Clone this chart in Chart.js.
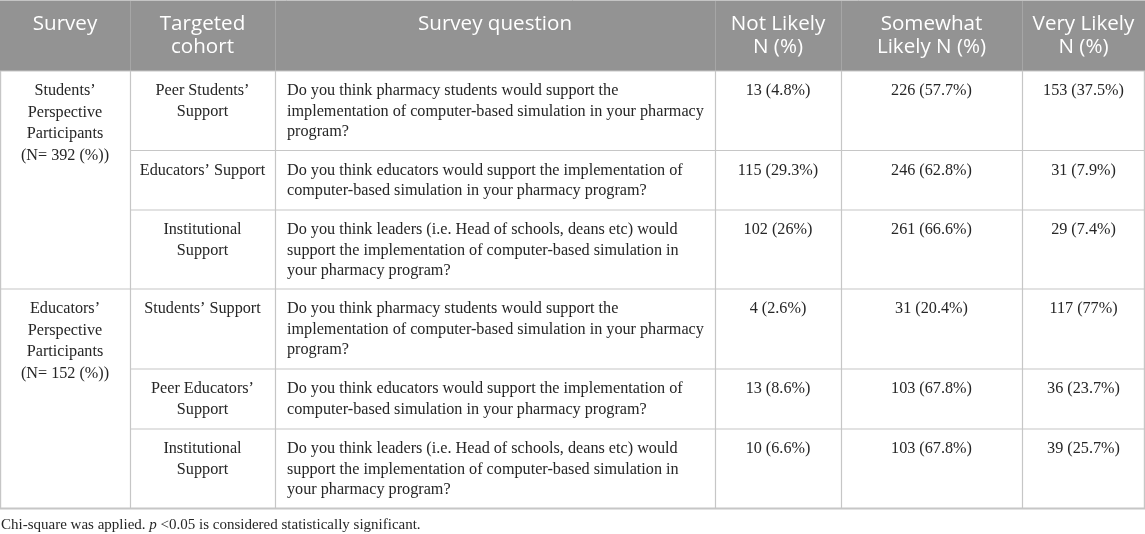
<!DOCTYPE html>
<html>
<head>
<meta charset="utf-8">
<script src="https://cdn.jsdelivr.net/npm/chart.js@4/dist/chart.umd.min.js"></script>
<style>
  html, body { margin: 0; padding: 0; background: #ffffff; }
  #wrap { position: relative; width: 1145px; height: 534px; }
</style>
</head>
<body>
<div id="wrap"><canvas id="c"></canvas></div>
<script>
// ---------- DATA ----------
const headers = [["Survey"], ["Targeted", "cohort"], ["Survey question"], ["Not Likely", "N (%)"], ["Somewhat", "Likely N (%)"], ["Very Likely", "N (%)"]];
const surveys = [
  ["Students’", "Perspective", "Participants", "(N= 392 (%))"],
  ["Educators’", "Perspective", "Participants", "(N= 152 (%))"]
];
const cohorts = [
  ["Peer Students’", "Support"],
  ["Educators’ Support"],
  ["Institutional", "Support"],
  ["Students’ Support"],
  ["Peer Educators’", "Support"],
  ["Institutional", "Support"]
];
const questions = [
  ["Do you think pharmacy students would support the", "implementation of computer-based simulation in your pharmacy", "program?"],
  ["Do you think educators would support the implementation of", "computer-based simulation in your pharmacy program?"],
  ["Do you think leaders (i.e. Head of schools, deans etc) would", "support the implementation of computer-based simulation in", "your pharmacy program?"],
  ["Do you think pharmacy students would support the", "implementation of computer-based simulation in your pharmacy", "program?"],
  ["Do you think educators would support the implementation of", "computer-based simulation in your pharmacy program?"],
  ["Do you think leaders (i.e. Head of schools, deans etc) would", "support the implementation of computer-based simulation in", "your pharmacy program?"]
];
const notLikelyN = [13, 115, 102, 4, 13, 10];
const notLikelyPct = [4.8, 29.3, 26, 2.6, 8.6, 6.6];
const somewhatN = [226, 246, 261, 31, 103, 103];
const somewhatPct = [57.7, 62.8, 66.6, 20.4, 67.8, 67.8];
const veryN = [153, 31, 29, 117, 36, 39];
const veryPct = [37.5, 7.9, 7.4, 77, 23.7, 25.7];
const footnotePre = "Chi-square was applied. ";
const footnoteItalic = "p";
const footnotePost = " <0.05 is considered statistically significant.";

// ---------- LAYOUT (scale units) ----------
const colEdges = [0, 130, 275, 715, 841, 1022, 1145];
const rowEdges = [0, 71, 150.5, 210, 289, 369, 429, 508.5];
const groupRows = [[0, 1, 2], [3, 4, 5]];

function fmt(n, p) { return n + " (" + p + "%)"; }

const tablePlugin = {
  id: 'tablePlugin',
  afterDraw(chart) {
    const ctx = chart.ctx;
    const xs = chart.scales.x, ys = chart.scales.y;
    const X = v => xs.getPixelForValue(v);
    const Y = v => ys.getPixelForValue(v);
    const W = X(colEdges[colEdges.length - 1]);
    ctx.save();

    // header background
    ctx.fillStyle = '#939393';
    ctx.fillRect(X(0), Y(rowEdges[0]), W - X(0), Y(rowEdges[1]) - Y(rowEdges[0]));
    // header separators
    ctx.strokeStyle = '#a6a6a6';
    ctx.lineWidth = 1;
    for (let i = 1; i < colEdges.length - 1; i++) {
      const x = Math.round(X(colEdges[i])) + 0.5;
      ctx.beginPath(); ctx.moveTo(x, Y(rowEdges[0])); ctx.lineTo(x, Y(rowEdges[1])); ctx.stroke();
    }
    // top border
    ctx.strokeStyle = '#c4c4c4';
    ctx.beginPath(); ctx.moveTo(X(0), 0.5); ctx.lineTo(W, 0.5); ctx.stroke();

    // header text
    ctx.fillStyle = '#ffffff';
    ctx.font = '20.6px "Open Sans"';
    ctx.textAlign = 'center';
    ctx.textBaseline = 'middle';
    headers.forEach((lines, c) => {
      const cx = (X(colEdges[c]) + X(colEdges[c + 1])) / 2;
      lines.forEach((t, i) => ctx.fillText(t, cx, Y(rowEdges[0]) + 24.5 + i * 22.5));
    });

    // body grid
    const bodyTop = Y(rowEdges[1]);
    const bodyBot = Y(rowEdges[rowEdges.length - 1]);
    ctx.strokeStyle = '#c6c6c6';
    ctx.lineWidth = 1.2;
    for (let i = 0; i < colEdges.length; i++) {
      let x = X(colEdges[i]);
      if (i === 0) x += 0.6; else if (i === colEdges.length - 1) x -= 0.6; else x = Math.round(x) + 0.5;
      ctx.beginPath(); ctx.moveTo(x, bodyTop); ctx.lineTo(x, bodyBot); ctx.stroke();
    }
    for (let r = 1; r < rowEdges.length; r++) {
      const y = Y(rowEdges[r]);
      const groupBoundary = (r === 1 || r === 4 || r === rowEdges.length - 1);
      const x0 = groupBoundary ? X(0) : X(colEdges[1]);
      ctx.lineWidth = (r === rowEdges.length - 1) ? 1.8 : 1.2;
      ctx.beginPath(); ctx.moveTo(x0, y); ctx.lineTo(W, y); ctx.stroke();
    }

    // body text
    ctx.fillStyle = '#262626';
    ctx.font = '16.2px "Liberation Serif"';
    ctx.textBaseline = 'middle';
    const LH = 20.7;
    // survey group column
    groupRows.forEach((rows, g) => {
      const top = Y(rowEdges[rows[0] + 1]);
      const cx = (X(colEdges[0]) + X(colEdges[1])) / 2;
      ctx.textAlign = 'center';
      surveys[g].forEach((t, i) => ctx.fillText(t, cx, top + 19.8 + i * 21.6));
    });
    for (let r = 0; r < questions.length; r++) {
      const top = Y(rowEdges[r + 1]);
      ctx.textAlign = 'center';
      const c1 = (X(colEdges[1]) + X(colEdges[2])) / 2;
      cohorts[r].forEach((t, i) => ctx.fillText(t, c1, top + 19.8 + i * LH));
      ctx.textAlign = 'left';
      questions[r].forEach((t, i) => ctx.fillText(t, X(colEdges[2]) + 12, top + 19.8 + i * LH));
      ctx.textAlign = 'center';
      const vals = [fmt(notLikelyN[r], notLikelyPct[r]), fmt(somewhatN[r], somewhatPct[r]), fmt(veryN[r], veryPct[r])];
      vals.forEach((t, k) => {
        const cx = (X(colEdges[3 + k]) + X(colEdges[4 + k])) / 2;
        ctx.fillText(t, cx, top + 19.8);
      });
    }

    // footnote
    ctx.textAlign = 'left';
    const fs = '15px "Liberation Serif"';
    ctx.font = fs;
    let fx = X(0) + 1;
    const fy = bodyBot + 16.5;
    ctx.fillText(footnotePre, fx, fy);
    fx += ctx.measureText(footnotePre).width;
    ctx.font = 'italic ' + fs;
    ctx.fillText(footnoteItalic, fx, fy);
    fx += ctx.measureText(footnoteItalic).width;
    ctx.font = fs;
    ctx.fillText(footnotePost, fx, fy);
    ctx.restore();
  }
};

new Chart(document.getElementById('c'), {
  type: 'scatter',
  data: { datasets: [{ data: [], pointRadius: 0 }] },
  options: {
    responsive: true,
    maintainAspectRatio: false,
    animation: false,
    layout: { padding: 0 },
    plugins: { legend: { display: false }, tooltip: { enabled: false } },
    scales: {
      x: { type: 'linear', min: 0, max: 1145, display: false },
      y: { type: 'linear', min: 0, max: 534, reverse: true, display: false }
    }
  },
  plugins: [tablePlugin]
});
</script>
</body>
</html>
